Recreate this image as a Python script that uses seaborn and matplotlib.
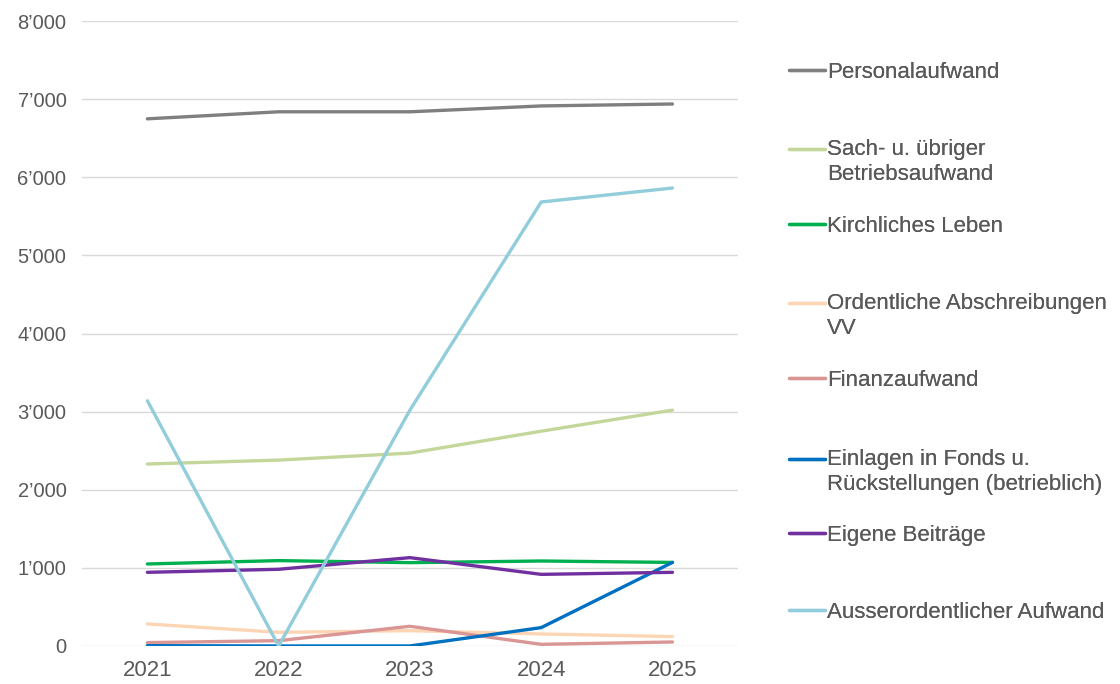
import matplotlib
matplotlib.use("Agg")
import matplotlib.pyplot as plt
import matplotlib.ticker as mticker
from matplotlib.legend_handler import HandlerLine2D
import numpy as np
import pandas as pd
import seaborn as sns

years = [2021, 2022, 2023, 2024, 2025]
series_names = [
    "Personalaufwand",
    "Sach- u. übriger\nBetriebsaufwand",
    "Kirchliches Leben",
    "Ordentliche Abschreibungen\nVV",
    "Finanzaufwand",
    "Einlagen in Fonds u.\nRückstellungen (betrieblich)",
    "Eigene Beiträge",
    "Ausserordentlicher Aufwand",
]
personal = [6750, 6840, 6840, 6915, 6940]
sach = [2330, 2380, 2470, 2750, 3020]
kirch = [1050, 1093, 1067, 1088, 1070]
abschreib = [282, 175, 196, 154, 120]
finanz = [43, 68, 252, 21, 51]
einlagen = [4, 0, 0, 235, 1070]
eigene = [943, 982, 1131, 917, 943]
ausser = [3140, 0, 3020, 5685, 5864]
colors = ["#7f7f7f", "#c4d79b", "#00b050", "#fcd5b4", "#da9694",
          "#0070c0", "#7030a0", "#92cddc"]

values = [personal, sach, kirch, abschreib, finanz, einlagen, eigene, ausser]
rows = []
for name, vals in zip(series_names, values):
    for y, v in zip(years, vals):
        rows.append({"Jahr": y, "Wert": v, "Serie": name})
df = pd.DataFrame(rows)


class ShiftedLineHandler(HandlerLine2D):
    """Legend line handle shifted vertically (to align with first text line)."""

    def __init__(self, dy=0.0, **kw):
        super().__init__(**kw)
        self.dy = dy

    def create_artists(self, legend, orig_handle, xdescent, ydescent,
                       width, height, fontsize, trans):
        artists = super().create_artists(legend, orig_handle, xdescent, ydescent,
                                         width, height, fontsize, trans)
        for a in artists:
            a.set_ydata(np.asarray(a.get_ydata(), dtype=float) + self.dy * fontsize)
        return artists


sns.set_theme(style="white")
plt.rcParams["font.family"] = ["Liberation Sans", "DejaVu Sans"]
text_color = "#595959"

fig = plt.figure(figsize=(11.2, 6.84), dpi=100)
ax = fig.add_axes([0.073, 0.0556, 0.586, 0.9134])
sns.lineplot(data=df, x="Jahr", y="Wert", hue="Serie", hue_order=series_names,
             palette=colors, linewidth=2.4, sort=False, ax=ax, legend=True)

ax.set_xlim(2020.5, 2025.5)
ax.set_ylim(0, 8000)
ax.set_xticks(years)
ax.set_yticks(range(0, 8001, 1000))
ax.yaxis.set_major_formatter(mticker.FuncFormatter(
    lambda v, p: f"{int(v):,}".replace(",", "\u2019")))
ax.grid(axis="y", color="#d9d9d9", linewidth=1)
ax.set_axisbelow(True)
for s in ax.spines.values():
    s.set_visible(False)
ax.tick_params(axis="y", length=0, pad=11, labelsize=14.5, labelcolor=text_color)
ax.tick_params(axis="x", length=0, pad=10, labelsize=16, labelcolor=text_color)
ax.set_xlabel("")
ax.set_ylabel("")

handles, labels = ax.get_legend_handles_labels()
ax.get_legend().remove()
legend_y_px = [72, 162, 226, 316, 380, 472, 535, 612]
for h, l, ypx in zip(handles, labels, legend_y_px):
    multi = "\n" in l
    leg = fig.legend([h], [l], loc="center left",
                     bbox_to_anchor=(789 / 1120, 1 - ypx / 684),
                     frameon=False, fontsize=16, handlelength=1.62,
                     handletextpad=0.1, borderpad=0, borderaxespad=0,
                     labelcolor=text_color,
                     handler_map={h: ShiftedLineHandler(dy=0.6 if multi else 0.0)})
    for line in leg.get_lines():
        line.set_linewidth(2.4)
    fig.add_artist(leg)

fig.savefig("out.png", dpi=100)
